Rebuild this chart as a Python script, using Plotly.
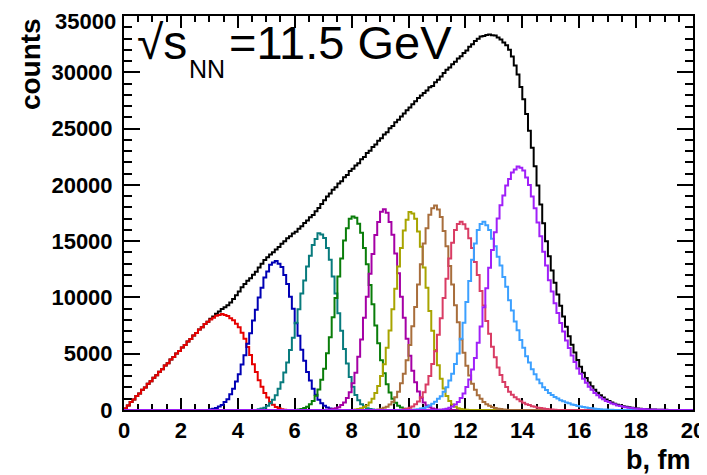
import plotly.graph_objects as go

# ---------------- data (counts per 0.1 fm bin of impact parameter b) ----------------
bin_width = 0.1
n_bins = 200  # 0 .. 20 fm

total_start = 0.0
total_counts = [
    140, 390, 700, 940, 1250, 1470, 1790, 2000, 2330, 2550,
    2870, 3080, 3400, 3610, 3950, 4160, 4480, 4700, 5010, 5240,
    5550, 5780, 6080, 6300, 6610, 6840, 7150, 7360, 7640, 7830,
    8100, 8310, 8560, 8760, 8970, 9130, 9310, 9560, 9860, 10190,
    10530, 10900, 11190, 11490, 11700, 12010, 12280, 12650, 13000, 13330,
    13560, 13820, 14010, 14260, 14480, 14770, 14990, 15260, 15440, 15670,
    15840, 16110, 16330, 16620, 16840, 17120, 17330, 17660, 17940, 18310,
    18640, 18960, 19230, 19570, 19790, 20120, 20330, 20670, 20880, 21220,
    21430, 21720, 21930, 22270, 22480, 22820, 23030, 23370, 23580, 23920,
    24130, 24470, 24680, 25020, 25230, 25570, 25780, 26070, 26330, 26620,
    26880, 27170, 27430, 27720, 27930, 28170, 28380, 28670, 28780, 29120,
    29330, 29620, 29930, 30220, 30430, 30720, 30930, 31220, 31430, 31720,
    31930, 32270, 32480, 32770, 32980, 33170, 33230, 33320, 33350, 33290,
    33260, 33090, 32910, 32640, 32400, 32000, 31400, 30600, 29800, 28700,
    27600, 26300, 24800, 23300, 21650, 19950, 18250, 16600, 15000, 13650,
    12400, 11300, 10250, 9250, 8300, 7400, 6550, 5800, 5100, 4450,
    3850, 3320, 2850, 2450, 2100, 1790, 1530, 1300, 1100, 930,
    790, 670, 565, 475, 400, 338, 283, 236, 197, 164,
    136, 112, 92, 75, 60, 48, 38, 30, 23, 17,
    12, 8, 5,
]

c1_start = 0.0
c1_counts = [
    140, 390, 700, 940, 1250, 1470, 1790, 2000, 2330, 2550,
    2870, 3080, 3400, 3610, 3950, 4160, 4480, 4700, 5010, 5240,
    5550, 5780, 6080, 6300, 6610, 6840, 7150, 7360, 7640, 7830,
    8040, 8190, 8370, 8450, 8520, 8430, 8350, 8160, 7980, 7660,
    7350, 6860, 6320, 5600, 4880, 4060, 3370, 2640, 2070, 1510,
    1100, 720, 470, 260, 150, 70, 30, 10,
]

c2_start = 3.0
c2_counts = [
    60, 120, 180, 310, 450, 700, 960, 1400, 1880, 2530,
    3180, 4040, 4870, 5890, 6820, 7950, 8910, 9990, 10860, 11760,
    12300, 12900, 13100, 13240, 13000, 12700, 12000, 11200, 10050, 8990,
    7710, 6590, 5360, 4380, 3370, 2620, 1880, 1360, 910, 610,
    370, 230, 130, 70, 30,
]

c3_start = 4.7
c3_counts = [
    60, 130, 210, 380, 590, 920, 1300, 1880, 2470, 3330,
    4220, 5340, 6410, 7740, 8960, 10350, 11500, 12750, 13700, 14650,
    15200, 15700, 15580, 15290, 14400, 13350, 11850, 10340, 8600, 7040,
    5420, 4120, 2930, 2070, 1340, 860, 510, 300, 160, 80, 35,
]

c4_start = 6.1
c4_counts = [
    40, 90, 180, 290, 510, 790, 1270, 1830, 2680, 3670,
    5040, 6460, 8250, 9950, 11850, 13450, 15050, 16150, 17000, 17180,
    17080, 16550, 15750, 14400, 12950, 11100, 9400, 7510, 5930, 4420,
    3270, 2280, 1560, 990, 640, 370, 220, 120, 60, 25,
]

c5_start = 7.2
c5_counts = [
    40, 80, 160, 250, 440, 670, 1070, 1580, 2380, 3320,
    4740, 6260, 8200, 10050, 12100, 13850, 15550, 16700, 17600, 17830,
    17520, 16700, 15560, 13900, 12150, 10050, 8190, 6320, 4830, 3480,
    2470, 1640, 1090, 670, 410, 240, 130, 70, 30,
]

c6_start = 8.1
c6_counts = [
    40, 80, 150, 270, 410, 670, 990, 1520, 2130, 3030,
    4070, 5540, 7060, 8950, 10760, 12750, 14400, 15950, 16900, 17580,
    17460, 17000, 15850, 14500, 12650, 10850, 8800, 7040, 5320, 3970,
    2780, 1910, 1240, 810, 480, 290, 160, 90, 40, 20,
]

c7_start = 8.9
c7_counts = [
    50, 100, 190, 290, 490, 740, 1140, 1630, 2380, 3220,
    4430, 5770, 7450, 9160, 11150, 12950, 14800, 16150, 17350, 17920,
    18170, 17820, 17140, 15900, 14550, 12800, 11140, 9300, 7790, 6260,
    5080, 3920, 3070, 2330, 1790, 1320, 990, 710, 520, 370,
    260, 180, 120, 80, 50, 30,
]

c8_start = 9.8
c8_counts = [
    60, 110, 200, 300, 500, 750, 1140, 1580, 2270, 3030,
    4080, 5220, 6690, 8160, 9950, 11650, 13450, 14850, 15990, 16520,
    16730, 16500, 16100, 15250, 14400, 13150, 12000, 10560, 9290, 7910,
    6780, 5620, 4680, 3780, 3120, 2480, 2040, 1630, 1360, 1140,
    960, 770, 650, 520, 440, 340, 290, 210, 170, 130,
    90, 60, 40, 20,
]

c9_start = 10.2
c9_counts = [
    40, 70, 130, 180, 290, 390, 560, 730, 990, 1230,
    1620, 2030, 2630, 3220, 4080, 5020, 6340, 7760, 9600, 11450,
    13350, 14800, 16000, 16520, 16730, 16420, 15990, 15210, 14540, 13610,
    12840, 11810, 10940, 9760, 8840, 7860, 7090, 6210, 5530, 4770,
    4230, 3620, 3170, 2700, 2370, 2010, 1770, 1520, 1340, 1150,
    1020, 870, 780, 660, 590, 490, 440, 360, 320, 260,
    225, 180, 150, 120, 95, 75, 55, 40, 28, 18,
]

c10_start = 11.1
c10_counts = [
    30, 60, 110, 200, 300, 490, 710, 1060, 1470, 2050,
    2700, 3600, 4620, 5980, 7420, 9130, 10820, 12640, 14210, 15790,
    17010, 18190, 19060, 19940, 20510, 21090, 21370, 21630, 21520, 21280,
    20660, 19980, 18960, 17930, 16660, 15430, 14060, 12830, 11520, 10520,
    9480, 8620, 7730, 6970, 6180, 5510, 4840, 4260, 3690, 3210,
    2770, 2410, 2060, 1790, 1520, 1320, 1110, 960, 800, 700,
    580, 510, 410, 360, 295, 255, 205, 180, 140, 122,
    98, 82, 63, 53, 41, 34, 25, 21, 14, 10,
    7, 4,
]

x_tick_vals = [0, 2, 4, 6, 8, 10, 12, 14, 16, 18, 20]
x_tick_text = ["0", "2", "4", "6", "8", "10", "12", "14", "16", "18", "20"]
y_tick_vals = [0, 5000, 10000, 15000, 20000, 25000, 30000, 35000]
y_tick_text = ["0", "5000", "10000", "15000", "20000", "25000", "30000", "35000"]

# ---------------- figure ----------------
b_edges = [round(i * bin_width, 1) for i in range(n_bins + 1)]


def full_hist(start, counts):
    i0 = int(round(start / bin_width))
    arr = [0] * i0 + list(counts)
    arr = arr + [0] * max(0, n_bins - len(arr))
    return arr[:n_bins]


series = [
    ("all", total_start, total_counts, "#000000"),
    ("c1", c1_start, c1_counts, "#e60000"),
    ("c2", c2_start, c2_counts, "#0000b4"),
    ("c3", c3_start, c3_counts, "#087b7d"),
    ("c4", c4_start, c4_counts, "#0a7d0a"),
    ("c5", c5_start, c5_counts, "#a500a5"),
    ("c6", c6_start, c6_counts, "#a8a400"),
    ("c7", c7_start, c7_counts, "#a86e3c"),
    ("c8", c8_start, c8_counts, "#d93c64"),
    ("c9", c9_start, c9_counts, "#3ca0ff"),
    ("c10", c10_start, c10_counts, "#a020f8"),
]

fig = go.Figure()
for name, start, counts, color in series:
    y = full_hist(start, counts)
    fig.add_trace(go.Scatter(
        x=b_edges, y=y + [y[-1]], mode="lines", name=name,
        line=dict(color=color, width=2, shape="hv"),
        showlegend=False, hoverinfo="skip",
    ))

# the page body has an 8 px margin, so the figure is sized/offset to compensate
FONT = "Liberation Sans, Arial, Helvetica, sans-serif"
fig.update_layout(
    width=699, height=467,
    margin=dict(l=116, r=14, t=8, b=65, autoexpand=False),
    paper_bgcolor="white", plot_bgcolor="white",
    showlegend=False,
    font=dict(family=FONT, color="black"),
)
fig.update_xaxes(
    range=[0, 20], tickmode="array", tickvals=x_tick_vals, ticktext=x_tick_text,
    ticks="inside", ticklen=12, tickwidth=2, tickcolor="black",
    showline=True, linewidth=2, linecolor="black", mirror="allticks",
    showgrid=False, zeroline=False, layer="below traces", automargin=False,
    tickfont=dict(family=FONT, size=22, color="black", weight="bold"),
    ticklabelstandoff=0, ticklabeloverflow="allow",
    minor=dict(ticks="inside", ticklen=6, tickwidth=2, tickcolor="black",
               dtick=0.5, tick0=0, showgrid=False),
)
# the top label (35000) is drawn separately, slightly lowered as in the original
y_axis_text = y_tick_text[:-1] + [""]
fig.update_yaxes(
    range=[0, 35000], tickmode="array", tickvals=y_tick_vals, ticktext=y_axis_text,
    ticks="inside", ticklen=16, tickwidth=2, tickcolor="black",
    showline=True, linewidth=2, linecolor="black", mirror="allticks",
    showgrid=False, zeroline=False, layer="below traces", automargin=False,
    tickfont=dict(family=FONT, size=22, color="black", weight="bold"),
    ticklabelstandoff=5, ticklabeloverflow="allow",
    minor=dict(ticks="inside", ticklen=8, tickwidth=2, tickcolor="black",
               dtick=1000, tick0=0, showgrid=False),
)
fig.add_annotation(
    text="<b>" + y_tick_text[-1] + "</b>", xref="paper", yref="paper",
    x=-0.0105, y=0.985, xanchor="right", yanchor="middle", showarrow=False,
    font=dict(family=FONT, size=22, color="black"),
)

# energy label: "√s", subscript "NN", "=11.5 GeV"
fig.add_annotation(
    text="√s", xref="paper", yref="paper",
    x=0.0193, y=1.005, xanchor="left", yanchor="top", showarrow=False,
    font=dict(family=FONT, size=48, color="black"),
)
fig.add_annotation(
    text="NN", xref="paper", yref="paper",
    x=0.1107, y=0.905, xanchor="left", yanchor="top", showarrow=False,
    font=dict(family=FONT, size=25, color="black"),
)
fig.add_annotation(
    text="=11.5 GeV", xref="paper", yref="paper",
    x=0.181, y=1.005, xanchor="left", yanchor="top", showarrow=False,
    font=dict(family=FONT, size=47, color="black"),
)
fig.add_annotation(
    text="<b>counts</b>", xref="paper", yref="paper",
    x=-0.165, y=1.0, xanchor="center", yanchor="top", textangle=-90, showarrow=False,
    font=dict(family=FONT, size=28, color="black"),
)
fig.add_annotation(
    text="<b>b, fm</b>", xref="paper", yref="paper",
    x=1.0, y=-0.084, xanchor="right", yanchor="top", showarrow=False,
    font=dict(family=FONT, size=27, color="black"),
)

fig.write_html("out.html")
